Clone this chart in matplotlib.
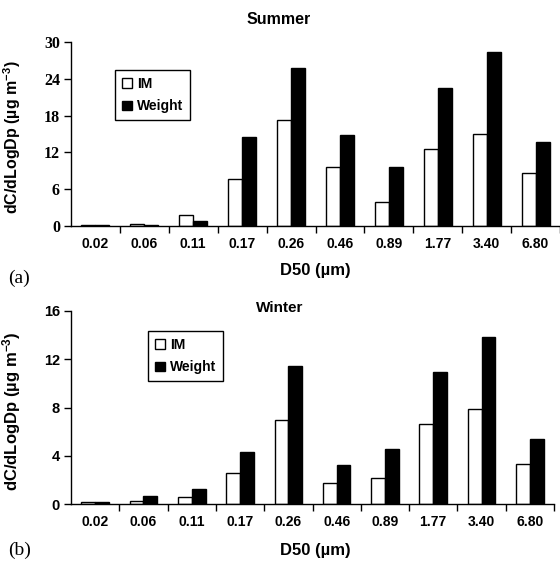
import numpy as np
import matplotlib.pyplot as plt
from matplotlib.ticker import FixedLocator, NullFormatter

# size bins (D50, um)
sizes = ['0.02', '0.06', '0.11', '0.17', '0.26', '0.46', '0.89', '1.77', '3.40', '6.80']

# dC/dLogDp (ug m-3)
summer_im = [0.2, 0.4, 1.8, 7.6, 17.3, 9.6, 3.9, 12.6, 15.0, 8.7]
summer_weight = [0.2, 0.2, 0.8, 14.5, 25.7, 14.8, 9.7, 22.5, 28.4, 13.75]
winter_im = [0.15, 0.3, 0.6, 2.6, 7.0, 1.8, 2.2, 6.6, 7.85, 3.3]
winter_weight = [0.15, 0.68, 1.3, 4.3, 11.4, 3.25, 4.6, 10.95, 13.8, 5.4]

SANS = 'Liberation Sans'
SERIF = 'Liberation Serif'

plt.rcParams['mathtext.fontset'] = 'custom'
plt.rcParams['mathtext.rm'] = 'Liberation Sans:bold'
plt.rcParams['mathtext.bf'] = 'Liberation Sans:bold'
plt.rcParams['mathtext.default'] = 'bf'

fig = plt.figure(figsize=(5.6, 5.62), dpi=100)

ax1 = fig.add_axes([71/560, 1 - 226/562, 489/560, 184/562])
ax2 = fig.add_axes([71/560, 1 - 504.3/562, 483/560, 193.6/562])

w = 0.286
x = np.arange(len(sizes))


def draw(ax, im, wt, ymax, ystep, ytick_family, ytick_size, leg_pos):
    ax.bar(x - w/2, im, w, color='white', edgecolor='black', linewidth=1.0, label='IM')
    ax.bar(x + w/2, wt, w, color='black', edgecolor='black', linewidth=1.0, label='Weight')
    ax.set_xlim(-0.5, len(sizes) - 0.5)
    ax.set_ylim(0, ymax)
    ax.spines['top'].set_visible(False)
    ax.spines['right'].set_visible(False)
    ax.spines['left'].set_linewidth(1.0)
    ax.spines['bottom'].set_linewidth(1.0)

    # labels at category centres, tick marks at category boundaries
    ax.set_xticks(x)
    ax.set_xticklabels(sizes, fontfamily=SANS, fontweight='bold', fontsize=10)
    ax.tick_params(axis='x', which='major', length=0, pad=8)
    ax.xaxis.set_minor_locator(FixedLocator(np.arange(0.5, len(sizes), 1.0)))
    ax.xaxis.set_minor_formatter(NullFormatter())
    ax.tick_params(axis='x', which='minor', length=5, width=1.0, direction='out')

    yt = np.arange(0, ymax + 0.1, ystep)
    ax.set_yticks(yt)
    ax.set_yticklabels([f'{v:.0f}' for v in yt], fontfamily=ytick_family,
                       fontweight='bold', fontsize=ytick_size)
    ax.tick_params(axis='y', length=5, width=1.0, direction='out', pad=3)

    leg = ax.legend(loc='upper left', bbox_to_anchor=leg_pos, bbox_transform=fig.transFigure,
                    borderaxespad=0, fancybox=False, edgecolor='black', framealpha=1,
                    handlelength=0.7, handleheight=0.7, handletextpad=0.4,
                    labelspacing=0.6, borderpad=0.5,
                    prop={'family': SANS, 'weight': 'bold', 'size': 10})
    leg.get_frame().set_linewidth(1.0)


draw(ax1, summer_im, summer_weight, 30, 6, SERIF, 11.5, (115/560, 1 - 70/562))
draw(ax2, winter_im, winter_weight, 16, 4, SANS, 10.5, (148/560, 1 - 331/562))

ax1.set_ylabel('dC/dLogDp (µg m$^{-3}$)', fontfamily=SANS, fontweight='bold', fontsize=11.5)
ax1.yaxis.set_label_coords(-0.098, 0.485)
ax2.set_ylabel('dC/dLogDp (µg m$^{-3}$)', fontfamily=SANS, fontweight='bold', fontsize=12)
ax2.yaxis.set_label_coords(-0.099, 0.48)

fig.text(279/560, 1 - 20/562, 'Summer', ha='center', va='center',
         fontfamily=SANS, fontweight='bold', fontsize=11.5)
fig.text(280/560, 1 - 308/562, 'Winter', ha='center', va='center',
         fontfamily=SANS, fontweight='bold', fontsize=11)

fig.text(315/560, 1 - 270/562, 'D50 (µm)', ha='center', va='center',
         fontfamily=SANS, fontweight='bold', fontsize=12)
fig.text(315/560, 1 - 550/562, 'D50 (µm)', ha='center', va='center',
         fontfamily=SANS, fontweight='bold', fontsize=12)

fig.text(8/560, 1 - 278/562, '(a)', ha='left', va='center', fontfamily=SERIF, fontsize=14)
fig.text(8/560, 1 - 550/562, '(b)', ha='left', va='center', fontfamily=SERIF, fontsize=14)

fig.savefig('out.png', dpi=100)
